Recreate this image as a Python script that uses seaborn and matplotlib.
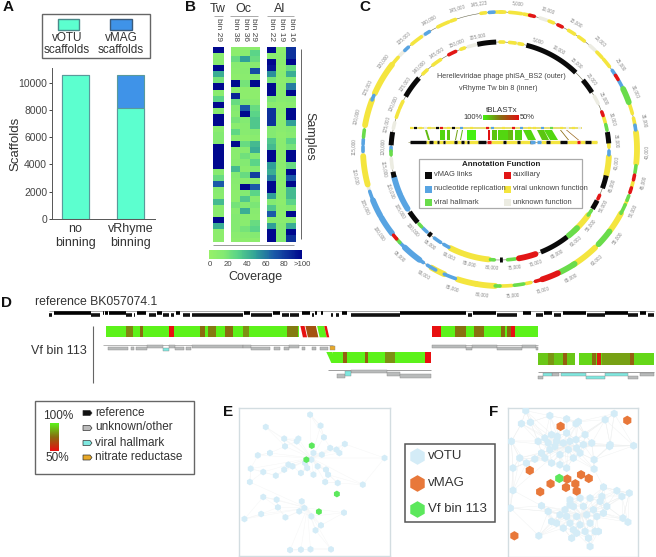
import numpy as np
import pandas as pd
import matplotlib
matplotlib.use("Agg")
import matplotlib.pyplot as plt
from matplotlib.colors import LinearSegmentedColormap
from matplotlib.patches import Rectangle
import seaborn as sns

sns.set_theme(style="white")
plt.rcParams["font.family"] = ["Liberation Sans", "DejaVu Sans"]

# ---------- Panel A ----------
A_CATS = ["no\nbinning", "vRhyme\nbinning"]
A_VOTU = [10600, 8150]
A_TOTAL = [10600, 10600]
AQUA, BLUE = "#5CFFCF", "#3F93E8"

# ---------- Panel B ----------
TW_29 = [100,10,12,100,45,20,100,10,30,100,12,100,100,10,15,15,100,100,100,100,12,25,70,12,10,40,10,10,100,45,8,8]
OC_38 = [8,8,25,12,10,8,100,8,90,25,15,12,20,10,28,10,100,10,10,12,40,15,12,10,8,8,20,12,15,15,15,10,8]
OC_36 = [8,10,50,10,12,10,20,8,8,15,70,100,15,12,12,8,25,12,22,15,10,25,10,100,15,35,15,45,12,10,20,12,8]
OC_29 = [8,30,25,12,75,12,100,8,8,12,25,30,35,35,15,10,40,45,15,30,15,80,12,70,30,12,18,12,10,25,30,15,8]
AL_22 = [100,10,100,95,55,20,100,100,18,10,85,85,85,15,15,35,40,100,100,50,45,60,100,100,50,15,35,70,12,50,100,100]
AL_19 = [8,10,10,8,10,8,10,10,12,8,10,8,10,10,8,10,10,8,8,10,8,10,8,10,10,8,10,8,10,15,15,15]
AL_16 = [85,85,100,25,45,15,60,100,15,10,100,100,50,15,12,30,20,100,100,25,100,70,100,40,40,30,15,100,12,45,100,85]
COV_TICKS = [0, 20, 40, 60, 80, 100]
COV_LABELS = ["0", "20", "40", "60", "80", ">100"]

# ---------- Panel C (degrees clockwise from north) ----------
OUT_YELLOW = [(-8,-6),(0,2),(4,9),(10,13),(21,23),(30,33),(35,38),(45,48),(49,53),(70,75),(77,80),(83,96),(104,106),(112,114),
              (118,127),(134,136),(136,148),(153,155),(167,169),(175,180),(182,190),(190,198),(204,210),(255,267),(280,291),
              (294,308),(309,312),(320,325),(333,338),(339,341),(358,361)]
OUT_BLUE = [(-4.5,-2.5),(55,57.5),(60,63),(80,82),(199,204),(208,212),(214,217),(216,224),(224,227),(232,240),(241,248),(248,252),
            (269,271),(272,274),(291,293),(316,318),(327,329)]
OUT_GREEN = [(64,70),(97,100),(110,112),(114,118),(127,134),(147,154),(170,174),(180,182),(227,229),(275,278)]
OUT_RED = [(12.5,14.5),(25,27),(57.5,59.5),(101,103),(106.5,108.5),(155,162),(162,165),(229,231)]
OUT_UNKNOWN = [(17,20),(41,44),(253,255),(268,270),(313,316),(325,327)]
IN_YELLOW = [(0,2),(5,8),(10,12),(72,75),(86,88),(93,103),(126,137),(168,171),(186,199),(200,207),(288,292),(293,297),(315,318),
             (322,327),(339,341)]
IN_BLUE = [(90,92),(208,211),(213,217),(222,225),(238,245),(246,256),(270,272)]
IN_GREEN = [(76,79),(123,126),(135,141),(172,176),(183,185),(226,228),(268,270)]
IN_RED = [(69,71),(114,116),(161,170),(332,336)]
IN_BLACK = [(-12,-2),(14,44),(49.5,57.5),(80,86),(103,110),(117,122),(142,158),(178.5,180),(219,221),(229,236),(256,259),(273,280),(300,312)]
IN_UNKNOWN = [(8,10),(60,64),(261,266),(282,285),(343,347)]
OUT_TICK_DEG = [12*k-5 for k in range(1, 30)] + [351.6]
OUT_TICK_LAB = [f"{5000*k:,}" for k in range(1, 30)] + ["145,223"]
IN_TICK_DEG = [8+11*k for k in range(1, 32)]
IN_TICK_LAB = [f"{5000*k:,}" for k in range(1, 32)]

TOP_X = [410,414,419,424,428,436,440,447,452,460,470,486,491,502,512,520,528,533,541,550,560,566,572,578]
TOP_C = "ykywykrykbyrbyrbyybgyuyu"
BOT_BLOCKS_K = [(410,426),(429,433),(437,439),(443,445),(454,457),(461,464),(467,469),(478,486),(503,506),(517,520),(530,533),(546,550),(560,567),(585,591)]
BOT_BLOCKS_R = [(487,491),(577,580)]
BOT_BLOCKS_B = [(530,535),(537,541)]
BOT_BLOCKS_Y = [(426,429),(433,437),(439,443),(445,454),(457,461),(464,467),(469,478),(491,503),(506,517),(520,530),(541,546),(550,560),(567,577),(580,585),(591,597)]
RIB_X0 = [428,440,447,455,460,467,488,492,498,508,515,528,542,550,568,578]
RIB_X1 = [430,445,450,456,461,476,490,497,508,513,522,536,549,558,569,579]
RIB_SHIFT = [-3,0,0,2,2,0,0,0,0,0,0,-5,-5,-6,-8,-12]
RIB_PCT = [90,95,92,85,90,100,50,92,95,90,95,95,92,95,75,72]

# ---------- Panel D (x positions along the alignment, scan units) ----------
REF_UP = [(130,218),(245,248),(252,258),(260,300),(328,350),(375,388),(420,430),(583,598),(652,670),(722,740),(752,758),(768,772),
          (817,830),(957,1115),(1130,1185),(1250,1270),(1300,1320),(1345,1400),(1447,1500),(1530,1545)]
REF_LOW = [(118,125),(218,238),(300,315),(320,323),(355,372),(390,405),(408,415),(437,455),(458,580),(600,650),(675,690),(692,715),
           (745,750),(790,796),(802,810),(838,885),(885,925),(925,955),(1118,1128),(1188,1235),(1280,1298),(1325,1340),(1403,1445),(1502,1525),(1550,1563)]
ROW1A = (254,715); ROW1A_CELLS = [(300,318,80),(335,342,75),(403,417,50),(478,490,75),(498,516,78),(537,557,75),(582,595,82),(687,713,78)]
ROW1B = (1032,1287); ROW1B_CELLS = [(1032,1055,50),(1088,1113,76),(1133,1158,76),(1198,1208,75),(1212,1222,75),(1222,1232,50)]
ROW2 = (795,1030); ROW2_CELLS = [(820,830,72),(872,880,72),(920,945,82),(1015,1030,50)]
ROW3A = (1285,1375); ROW3A_CELLS = [(1310,1325,83),(1345,1355,72)]
ROW3B = (1385,1563); ROW3B_CELLS = [(1415,1425,75),(1427,1437,55),(1440,1505,85),(1505,1515,72)]
STRIPE_TOP = [(718,728,50),(730,755,68),(758,775,100),(775,781,50)]
TRK1_UP = [(352,390),(405,418),(460,580),(580,600),(690,715),(1032,1115),(1128,1188),(1248,1280)]
TRK1_LOW = [(258,305),(312,320),(325,352),(418,440),(445,457),(600,645),(655,670),(678,690),(722,730),(745,755),(765,785),(1115,1128),(1188,1248),(1280,1287)]
TRK1_TEAL = [(390,405)]
TRK1_ORANGE = [(788,800)]
TRK2_UP = [(840,925)]
TRK2_MID = [(925,955)]
TRK2_LOW = [(805,825),(955,1030)]
TRK2_TEAL = [(825,840)]
TRK3_UP = [(1320,1335),(1530,1563)]
TRK3_LOW = [(1285,1298),(1500,1525)]
TRK3_TEAL_UP = [(1298,1320),(1340,1400),(1445,1500)]
TRK3_TEAL_LOW = [(1400,1445)]

# ---------- Panels E, F (network node positions in layout units) ----------
E_VOTU_X = [742,636,767,680,714,775,682,805,825,790,617,646,812,920,690,680,630,600,660,598,720,750,780,785,778,808,868,630,662,665,722,728,716,745,823,625,585,683,768,755,694,720,743,792,700,735,760,750,770,730,745,710]
E_VOTU_Y = [60,97,93,132,132,128,155,165,148,160,182,175,175,190,210,225,232,222,243,262,235,240,225,240,262,265,270,307,315,338,320,340,350,365,354,358,373,368,392,407,466,465,464,464,215,220,215,175,180,205,195,140]
E_VF_X = [746,733,806,763]
E_VF_Y = [153,195,298,351]
F_VOTU_X = [168,240,290,155,182,318,325,405,432,490,420,418,205,225,245,262,290,345,318,340,365,125,130,150,170,195,215,240,255,270,295,310,330,372,372,245,270,290,235,280,300,260,320,225,130,122,215,400,440,455,477,458,473,207,305,360,385,245,300,330,360,390,410,285,310,340,370,400,290,320,350,380,300,330,360,270,260,320,345,375,280,310,355,300,235,395]
F_VOTU_Y = [33,48,58,72,68,72,66,60,42,138,135,140,125,115,105,110,100,105,120,135,130,125,205,175,190,178,160,150,140,165,150,175,160,180,208,190,195,205,130,130,125,125,145,175,272,325,318,262,273,290,280,355,367,408,415,440,395,365,300,295,295,305,320,330,320,320,330,340,350,350,345,350,370,375,370,345,370,400,395,395,385,390,415,315,335,290]
F_VMAG_X = [272,471,180,242,211,292,316,333,356,288,320,134]
F_VMAG_Y = [80,62,212,252,276,238,252,225,236,263,274,408]
F_VF_X = [268]
F_VF_Y = [236]
E_HUBS = [(745,190),(735,340)]
F_HUBS = [(285,140),(335,345)]

DKGRAY = "#333333"
fig = plt.figure(figsize=(6.56, 5.57), dpi=100, facecolor="white")

def axpx(x0, y0, x1, y1, **kw):
    return fig.add_axes([x0/656, 1-y1/557, (x1-x0)/656, (y1-y0)/557], **kw)

# --- A
ax = axpx(52, 68, 155, 219)
dfa = pd.DataFrame({"cat": A_CATS, "votu": A_VOTU, "total": A_TOTAL})
sns.barplot(data=dfa, x="cat", y="total", color=BLUE, width=0.49, saturation=1, edgecolor="#5a9a9a", linewidth=0.8, ax=ax)
sns.barplot(data=dfa, x="cat", y="votu", color=AQUA, width=0.49, saturation=1, edgecolor="#5a9a9a", linewidth=0.8, ax=ax)
ax.set_xlim(-0.427, 1.445); ax.set_ylim(0, 11078)
ax.set_yticks(range(0, 10001, 2000))
ax.tick_params(axis="y", labelsize=7.5, labelcolor="#444444", length=2, left=True, width=0.6, pad=1.5)
ax.tick_params(axis="x", labelsize=9, labelcolor=DKGRAY, length=0, pad=3)
ax.set_xlabel(""); ax.set_ylabel("Scaffolds", fontsize=9.5, color=DKGRAY)
ax.yaxis.set_label_coords(-0.30, 0.5)
for s in ("top", "right"):
    ax.spines[s].set_visible(False)
for s in ("left", "bottom"):
    ax.spines[s].set_color("#555555"); ax.spines[s].set_linewidth(0.7)

# --- B
cov = LinearSegmentedColormap.from_list("cov", [(0, "#96F068"), (0.15, "#84EA72"), (0.3, "#5AD488"), (0.5, "#30A098"), (0.7, "#1A5AA8"), (1, "#00088E")])
def heat(cols, x0, x1, shifted=False):
    a = axpx(x0, 47, x1, 241.5)
    sns.heatmap(pd.DataFrame(cols).T, vmin=0, vmax=100, cmap=cov, cbar=False, xticklabels=False, yticklabels=False, ax=a)
    if shifted:
        a.set_ylim(32.5, 0.5)
    return a
heat([TW_29], 213, 224)
heat([OC_38, OC_36, OC_29], 230.5, 259.5, shifted=True)
heat([AL_22, AL_19, AL_16], 266.5, 296)
a = axpx(209, 250, 302, 259)
sns.heatmap(np.linspace(0, 100, 100).reshape(1, -1), vmin=0, vmax=100, cmap=cov, cbar=False, xticklabels=False, yticklabels=False, ax=a)

# --- C rings
COL = dict(y="#F4E53E", b="#58A4E2", g="#69DC4B", r="#E21616", u="#ECECE2", k="#0A0A0A")
def ring(cx, cy, R, groups, ticks, labs, label_off):
    m = R + 22
    p = axpx(cx-m, cy-m, cx+m, cy+m, projection="polar")
    p.set_theta_zero_location("N"); p.set_theta_direction(-1)
    p.set_rlim(0, m); p.axis("off"); p.patch.set_alpha(0)
    th = np.linspace(0, 2*np.pi, 500)
    p.plot(th, np.full_like(th, R), color="#6a6a50", lw=0.4)
    for kind, segs in groups:
        for s, e in segs:
            t = np.radians(np.linspace(s, e, 20))
            lw = 4.2 if (e-s) >= 6 and kind != "k" else (3.6 if kind == "k" else 2.6)
            p.plot(t, np.full_like(t, R), color=COL[kind], lw=lw, solid_capstyle="round" if kind != "k" else "butt")
    for d, l in zip(ticks, labs):
        a_ = d % 360
        rot = -a_ if (a_ < 90 or a_ > 270) else 180-a_
        p.text(np.radians(d), R+label_off, l, fontsize=3.4, color="#8a8a8a", rotation=rot, rotation_mode="anchor", ha="center", va="center")
ring(500, 149, 137, [("u", OUT_UNKNOWN), ("y", OUT_YELLOW), ("b", OUT_BLUE), ("g", OUT_GREEN), ("r", OUT_RED)], OUT_TICK_DEG, OUT_TICK_LAB, 10)
ring(500, 151, 109, [("u", IN_UNKNOWN), ("y", IN_YELLOW), ("b", IN_BLUE), ("g", IN_GREEN), ("r", IN_RED), ("k", IN_BLACK)], IN_TICK_DEG, IN_TICK_LAB, 8)

# --- E / F networks
def network(box, xlim, ylim, nx, ny, hubs, groups, k, edge):
    n = axpx(*box)
    pts = np.column_stack([nx, ny]).astype(float)
    for i, pt in enumerate(pts):
        d = np.hypot(*(pts-pt).T)
        for j in np.argsort(d)[1:k+1]:
            n.plot([pt[0], pts[j][0]], [pt[1], pts[j][1]], color=edge, lw=0.3, zorder=1)
        h = min(hubs, key=lambda q: np.hypot(q[0]-pt[0], q[1]-pt[1]))
        n.plot([pt[0], h[0]], [pt[1], h[1]], color=edge, lw=0.3, zorder=1)
    for gx, gy, c, s in groups:
        sns.scatterplot(x=gx, y=gy, color=c, s=s, marker="h", edgecolor="none", legend=False, zorder=3, ax=n)
    n.set_xlim(*xlim); n.set_ylim(*ylim); n.set_xticks([]); n.set_yticks([]); n.set_xlabel(""); n.set_ylabel("")
    for sp in n.spines.values():
        sp.set_color("#d3dde1"); sp.set_linewidth(1.0)
LIGHT = "#D4ECF7"; ORANGE = "#E8783A"; VFG = "#5CE85C"
network((239, 408, 390, 556), (572, 933), (484, 40), E_VOTU_X, E_VOTU_Y, E_HUBS,
        [(E_VOTU_X, E_VOTU_Y, LIGHT, 24), (E_VF_X, E_VF_Y, VFG, 24)], 2, "#f4f5f5")
network((508, 408, 638, 556.5), (115, 503), (470, 25), F_VOTU_X, F_VOTU_Y, F_HUBS,
        [(F_VOTU_X, F_VOTU_Y, LIGHT, 34), (F_VMAG_X, F_VMAG_Y, ORANGE, 46), (F_VF_X, F_VF_Y, VFG, 46)], 5, "#eef0f0")

# --- overlay: annotations, D tracks
o = axpx(0, 0, 656, 557)
o.set_xlim(0, 656); o.set_ylim(557, 0); o.axis("off"); o.patch.set_alpha(0)
def T(x, y, s, size=9, color=DKGRAY, ha="center", va="center", **kw):
    o.text(x, y, s, fontsize=size, color=color, ha=ha, va=va, **kw)
def box(x0, y0, x1, y1, ec="#666666", fc="white", lw=1.0, z=2):
    o.add_patch(Rectangle((x0, y0), x1-x0, y1-y0, ec=ec, fc=fc, lw=lw, zorder=z))
def L(xs, ys, c="#777777", lw=0.7, z=2):
    o.plot(xs, ys, color=c, lw=lw, zorder=z, solid_capstyle="butt")

for x, y, s in [(8, 7, "A"), (191, 7, "B"), (365, 7, "C"), (6, 303, "D"), (228, 412, "E"), (494, 412, "F")]:
    T(x, y, s, size=11, color="#111111", fontweight="bold")

# A legend
box(42, 14, 150, 58)
box(58, 19, 79, 30, ec="#4a8a8a", fc=AQUA, z=3); box(110, 19, 132, 30, ec="#3a5a7a", fc=BLUE, z=3)
T(67, 44, "vOTU\nscaffolds", size=8.5, linespacing=1.0, zorder=4)
T(121, 44, "vMAG\nscaffolds", size=8.5, linespacing=1.0, zorder=4)

# B annotation
for x, s in [(218, "Tw"), (243, "Oc"), (280, "Al")]:
    T(x, 9, s, size=9)
for x0, x1 in [(214, 223), (230, 258), (267, 294)]:
    L([x0, x1], [16, 16], "#aaaaaa")
for x, s in [(218.5, "bin 29"), (235, "bin 38"), (245, "bin 36"), (254, "bin 29"), (271, "bin 22"), (281, "bin 19"), (291, "bin 16")]:
    T(x, 30, s, size=6, rotation=270, color="#444444")
L([301, 301], [49, 239], "#666666")
T(309, 136, "Samples", size=9, rotation=270)
L([213, 294], [245, 245], "#999999")
for x, s in zip([209.5, 228, 247, 266, 284, 302], COV_LABELS):
    T(x, 264, s, size=5.6, color="#444444")
T(255, 277, "Coverage", size=9)

# C center
T(501, 76, "Herelleviridae phage phiSA_BS2 (outer)", size=5.2, color="#444444")
T(498, 88, "vRhyme Tw bin 8 (inner)", size=5.2, color="#444444")
T(502, 110, "tBLASTx", size=5.8)
T(473, 117.5, "100%", size=5.4); T(527, 117.5, "50%", size=5.4)
blast = LinearSegmentedColormap.from_list("blast", ["#E01010", "#8A6A10", "#45F010"])
o.imshow(np.linspace(1, 0, 60).reshape(1, -1), cmap=blast, extent=(483, 519, 120, 115), aspect="auto", zorder=3)
o.set_xlim(0, 656); o.set_ylim(557, 0)
L([410, 582], [127.7, 127.7], "#E8E070", 1.4)
for i, (x, c) in enumerate(zip(TOP_X, TOP_C)):
    L([x, x+2.5], [127.7, 127.7], COL[c] if c != "w" else "#e8e8e0", 1.6, 3)
for x0, x1, sh, pct in zip(RIB_X0, RIB_X1, RIB_SHIFT, RIB_PCT):
    o.fill([x0+sh, x1+sh, x1, x0], [130, 130, 140, 140], color=blast((pct-50)/50), lw=0, zorder=3)
L([408, 597], [142, 142], "#999966", 0.5)
for segs, c in [(BOT_BLOCKS_Y, "y"), (BOT_BLOCKS_K, "k"), (BOT_BLOCKS_R, "r"), (BOT_BLOCKS_B, "b")]:
    for s, e in segs:
        L([s, e], [142, 142], COL[c], 2.4, 3)
box(419, 159, 582, 208, ec="#aaaaaa", lw=0.9)
T(501, 164, "Annotation Function", size=5.8, color="#222222", fontweight="bold", zorder=4)
for x, y, c, s in [(428, 175, "k", "vMAG links"), (428, 189, "b", "nucleotide replication"), (428, 202.5, "g", "viral hallmark"),
                   (507, 175, "r", "auxiliary"), (507, 189, "y", "viral unknown function"), (507, 202.5, "u", "unknown function")]:
    box(x-3.5, y-3.5, x+3.5, y+3.5, ec="none", fc=COL[c], lw=0, z=3)
    T(x+6, y, s, size=5.4, ha="left", color="#444444", zorder=4)

# D
S = 656/1568
T(35, 302, "reference BK057074.1", size=8.8, ha="left")
T(59, 351.5, "Vf bin 113", size=9)
L([93, 93], [326, 383], "#666666", 0.8)
L([118*S, 1563*S], [311, 311], "#aaaaaa", 0.7)
for s, e in REF_UP:
    L([s*S, e*S], [313, 313], "#000000", 2.6, 3)
for s, e in REF_LOW:
    L([s*S, e*S], [315.3, 315.3], "#111111", 2.6, 3)
pid = LinearSegmentedColormap.from_list("pid", ["#E81010", "#8A6A10", "#5CF21A"])
def pc(v):
    return pid((v-50)/50)
def row(span, cells, y0, y1, base=100):
    o.add_patch(Rectangle((span[0]*S, y0), (span[1]-span[0])*S, y1-y0, fc=pc(base), ec="none", zorder=3))
    for s, e, v in cells:
        o.add_patch(Rectangle((s*S, y0), (e-s)*S, y1-y0, fc=pc(v), ec="none", zorder=3))
row(ROW1A, ROW1A_CELLS, 326, 337.3, 100)
row(ROW1B, ROW1B_CELLS, 326, 337.3, 100)
row(ROW2, ROW2_CELLS, 352, 363, 100)
row(ROW3A, ROW3A_CELLS, 353, 365, 92)
row(ROW3B, ROW3B_CELLS, 353, 365, 95)
for s, e, v in STRIPE_TOP:
    o.fill([s*S, e*S, (e+6)*S, (s+6)*S], [326, 326, 337.3, 337.3], color=pc(v), lw=0, zorder=3)
o.fill([780*S, 795*S, 800*S, 792*S], [352, 352, 363, 363], color=pc(100), lw=0, zorder=3)
L([245*S, 795*S], [345, 345], "#999999", 0.5)
L([1032*S, 1287*S], [345, 345], "#999999", 0.5)
L([785*S, 1030*S], [370, 370], "#777777", 0.5)
L([1285*S, 1563*S], [372, 372], "#777777", 0.5)
def genes(segs, y0, y1, fc, ec="#888888"):
    for s, e in segs:
        o.add_patch(Rectangle((s*S, y0), (e-s)*S, y1-y0, fc=fc, ec=ec, lw=0.3, zorder=3))
GRAY = "#B9BBBB"; TEAL = "#7FE8E0"
genes(TRK1_UP, 345.3, 347.5, GRAY); genes(TRK1_LOW, 346.8, 350, GRAY)
genes(TRK1_TEAL, 348, 351, TEAL); genes(TRK1_ORANGE, 346, 350, "#E8A828")
genes(TRK2_UP, 370.2, 373, GRAY); genes(TRK2_MID, 371.5, 376, GRAY); genes(TRK2_LOW, 374, 378, GRAY)
genes(TRK2_TEAL, 371, 376, TEAL)
genes(TRK3_UP, 372.5, 376, GRAY); genes(TRK3_LOW, 375.5, 379, GRAY)
genes(TRK3_TEAL_UP, 372.5, 376, TEAL); genes(TRK3_TEAL_LOW, 375.5, 379, TEAL)

# D legend
box(35, 401, 194, 474, ec="#666666")
T(58, 416, "100%", size=8.5, zorder=4); T(57, 458, "50%", size=8.5, zorder=4)
o.imshow(np.linspace(1, 0, 40).reshape(-1, 1), cmap=pid, extent=(50, 59, 451, 423), aspect="auto", zorder=3)
o.set_xlim(0, 656); o.set_ylim(557, 0)
for y, fc, s in [(413, "#111111", "reference"), (428, "#BBBBBB", "unknown/other"), (443, "#7FE8E0", "viral hallmark"), (457.5, "#E8A828", "nitrate reductase")]:
    o.fill([83, 90, 92, 90, 83, 83], [y-2.5, y-2.5, y, y+2.5, y+2.5, y], fc=fc, ec="#333333", lw=0.5, zorder=4)
    T(95, y-0.5, s, size=8.5, ha="left", zorder=4)

# E/F legend
box(404.5, 444, 495, 522, ec="#555555", lw=1.1)
for y, c, s in [(456, LIGHT, "vOTU"), (483, ORANGE, "vMAG"), (508.5, VFG, "Vf bin 113")]:
    o.plot([417], [y], marker="h", ms=12, color=c, mec="none", zorder=4, ls="")
    T(428, y, s, size=9.5, ha="left", zorder=4)

fig.savefig("out.png", dpi=100)
